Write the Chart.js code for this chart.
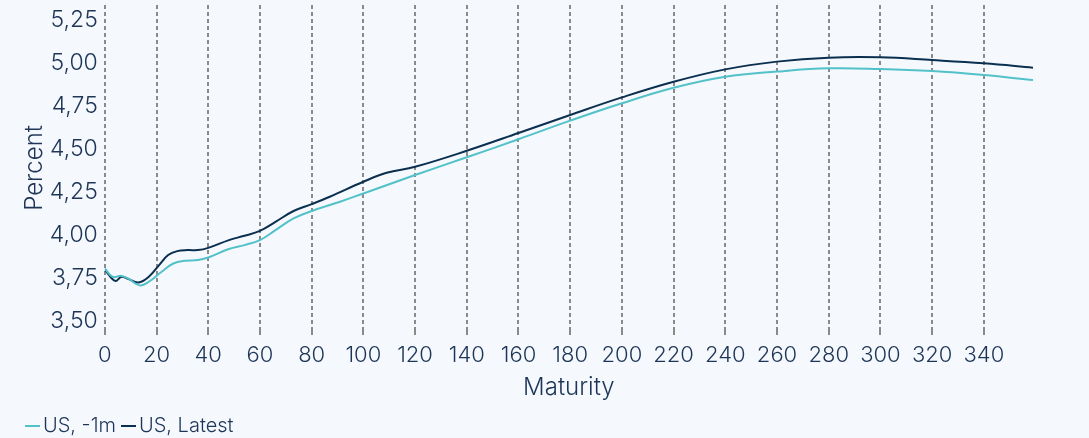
<!DOCTYPE html>
<html>
<head>
<meta charset="utf-8">
<script src="https://cdn.jsdelivr.net/npm/chart.js@4/dist/chart.umd.min.js"></script>
<style>
  html, body { margin: 0; padding: 0; background: #f5f9fd; }
  canvas { display: block; }
</style>
</head>
<body>
<canvas id="c" width="1089" height="438"></canvas>
<script>
// Maturity (months) and yields (percent)
const latestMaturity = [0, 4, 6.5, 9, 13, 17, 21, 24.5, 28, 32, 36, 40, 48, 54, 60, 66, 73, 80, 87, 100, 109, 120, 140, 160, 180, 200, 220, 240, 260, 280, 300, 320, 340, 359];
const latestValues   = [3.80, 3.734, 3.758, 3.746, 3.725, 3.758, 3.826, 3.884, 3.907, 3.913, 3.913, 3.926, 3.971, 3.996, 4.025, 4.077, 4.14, 4.18, 4.223, 4.31, 4.362, 4.397, 4.49, 4.593, 4.698, 4.80, 4.891, 4.963, 5.008, 5.031, 5.033, 5.017, 4.998, 4.973];

const prevMaturity = [0, 3, 6.5, 9, 13.5, 17, 22, 26.5, 31, 36, 40, 48, 54, 60, 66, 73, 80, 91, 100, 120, 140, 160, 180, 200, 220, 240, 260, 280, 300, 320, 340, 359];
const prevValues   = [3.806, 3.758, 3.763, 3.748, 3.708, 3.729, 3.787, 3.835, 3.851, 3.855, 3.87, 3.919, 3.942, 3.971, 4.029, 4.097, 4.14, 4.194, 4.242, 4.349, 4.452, 4.557, 4.665, 4.766, 4.856, 4.92, 4.95, 4.969, 4.965, 4.953, 4.93, 4.901];

const seriesNames = ["US, -1m", "US, Latest"];
const seriesColors = ["#52c1c8", "#0b2f4f"];
const xTitle = "Maturity";
const yTitle = "Percent";

const pts = (xs, ys) => xs.map((x, i) => ({ x: x, y: ys[i] }));

// small legend marker: a short line offset so the text sits close to it
function legendMarker(color) {
  const c = document.createElement("canvas");
  c.width = 30; c.height = 4;
  const g = c.getContext("2d");
  g.strokeStyle = color;
  g.lineWidth = 2;
  g.beginPath();
  g.moveTo(11, 2);
  g.lineTo(26, 2);
  g.stroke();
  return c;
}

const textColor = "#1d3557";
const FONT = "Inter, 'Noto Sans', sans-serif";

new Chart(document.getElementById("c"), {
  type: "line",
  data: {
    datasets: [
      {
        label: seriesNames[0],
        data: pts(prevMaturity, prevValues),
        borderColor: seriesColors[0],
        backgroundColor: seriesColors[0],
        borderWidth: 2,
        pointRadius: 0,
        pointHoverRadius: 0,
        pointStyle: legendMarker(seriesColors[0]),
        tension: 0.4,
        fill: false
      },
      {
        label: seriesNames[1],
        data: pts(latestMaturity, latestValues),
        borderColor: seriesColors[1],
        backgroundColor: seriesColors[1],
        borderWidth: 2,
        pointRadius: 0,
        pointHoverRadius: 0,
        pointStyle: legendMarker(seriesColors[1]),
        tension: 0.4,
        fill: false
      }
    ]
  },
  options: {
    responsive: false,
    devicePixelRatio: 1,
    animation: false,
    layout: { padding: { left: 20, right: 56, top: 5, bottom: -8 } },
    plugins: {
      tooltip: { enabled: false },
      legend: {
        position: "bottom",
        align: "start",
        labels: {
          usePointStyle: true,
          pointStyleWidth: 8,
          boxHeight: 20,
          padding: 5,
          color: textColor,
          font: { family: FONT, size: 20, weight: 300 }
        }
      }
    },
    scales: {
      x: {
        type: "linear",
        min: 0,
        max: 359,
        ticks: {
          stepSize: 20,
          includeBounds: false,
          color: textColor,
          padding: 5,
          maxRotation: 0,
          autoSkip: false,
          font: { family: FONT, size: 22, weight: 300 }
        },
        grid: {
          display: true,
          color: "#8a8a8a",
          lineWidth: 2,
          tickLength: 6,
          drawTicks: true,
          tickBorderDash: [4, 3]
        },
        border: { display: false, dash: [4, 3] },
        title: {
          display: true,
          text: xTitle,
          color: textColor,
          padding: { top: 0, bottom: 9 },
          font: { family: FONT, size: 24, weight: 300 }
        }
      },
      y: {
        type: "linear",
        min: 3.444,
        max: 5.337,
        afterFit(scale) {
          scale.paddingTop = 0;
          scale.paddingBottom = 0;
        },
        ticks: {
          stepSize: 0.25,
          includeBounds: false,
          color: textColor,
          padding: 7,
          font: { family: FONT, size: 23, weight: 300 },
          callback: (v) => v.toFixed(2).replace(".", ",")
        },
        grid: { display: false, drawTicks: false },
        border: { display: false },
        title: {
          display: true,
          text: yTitle,
          color: textColor,
          padding: { top: 0, bottom: -6 },
          font: { family: FONT, size: 24, weight: 300 }
        }
      }
    }
  }
});
</script>
</body>
</html>
